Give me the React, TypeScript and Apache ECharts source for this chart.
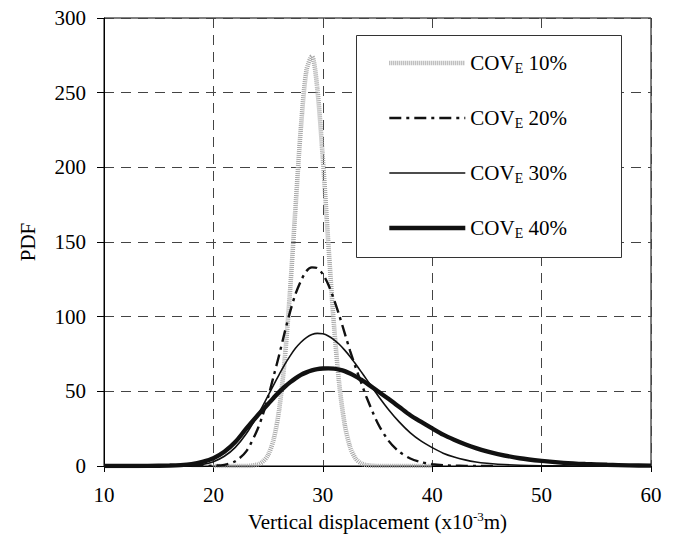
import React, { useEffect, useRef } from "react";
import * as echarts from "echarts";

// x grid (vertical displacement, x10^-3 m)
const X = [10, 12, 14, 16, 17, 18, 19, 20, 21, 22, 23, 24, 24.5, 25, 25.5, 26, 26.5, 27, 27.5, 28, 28.5, 29, 29.5, 30, 30.5, 31, 31.5, 32, 32.5, 33, 33.5, 34, 35, 36, 37, 38, 39, 40, 41, 42, 43, 44, 45, 46, 48, 50, 52, 54, 56, 58, 60];

// PDF values (null = curve not drawn there)
const COV10 = [null, null, null, null, null, null, null, 0, 0, 0, 0, 0.9, 2.8, 7.4, 17.6, 37.2, 69.9, 116.5, 172.6, 226.8, 264.7, 274.3, 252.5, 206.2, 149.6, 96.4, 55.1, 28.0, 12.6, 5.0, 1.8, 0.6, 0, 0, 0, 0, 0, 0, null, null, null, null, null, null, null, null, null, null, null, null, null];
const COV20 = [null, null, null, null, null, 0, 0, 0.2, 0.8, 3.2, 9.8, 24, 34, 46, 60, 74, 89, 103, 115, 124, 130.5, 133, 132.5, 128.5, 121.5, 112, 101, 89, 77, 66, 56, 46, 29, 17, 9.5, 5, 2.5, 1.2, 0.5, 0.2, 0.1, 0, 0, 0, null, null, null, null, null, null, null];
const COV30 = [0, 0, 0, 0.02, 0.1, 0.36, 1.1, 2.9, 6.5, 12.5, 21.6, 33.4, 40.1, 47.1, 54.2, 61.1, 67.7, 73.6, 78.8, 82.9, 86.0, 88.0, 88.8, 88.5, 87.1, 84.7, 81.5, 77.6, 73.2, 68.3, 63.2, 58.0, 47.6, 37.9, 29.4, 22.2, 16.6, 12.3, 8.6, 6.0, 4.1, 2.7, 1.8, 1.2, 0.5, 0.2, 0.1, 0, 0, 0, 0];
const COV40 = [0, 0.02, 0.08, 0.3, 0.6, 1.3, 2.8, 5.2, 9.5, 16, 25, 33.5, 37.5, 41.5, 45.6, 49.5, 52.9, 56, 58.7, 61, 62.7, 64, 64.9, 65.3, 65.4, 65.2, 64.5, 63.5, 61.9, 60, 57.8, 55.5, 50.2, 45, 39.5, 34, 29.5, 25.2, 21, 17.6, 14.6, 12, 9.8, 8, 5.2, 3.4, 2.1, 1.3, 0.8, 0.45, 0.25];

const SERIES_NAMES = ["COVE 10%", "COVE 20%", "COVE 30%", "COVE 40%"];
const SERIES_VALUES = [COV10, COV20, COV30, COV40];
const X_TICKS = [10, 20, 30, 40, 50, 60];
const Y_TICKS = [0, 50, 100, 150, 200, 250, 300];

const FONT = "Liberation Serif";

const STYLES = [
  { color: "#a6a6a6", width: 4.6, type: [1, 1] as any },
  { color: "#111", width: 2.4, type: [12, 5, 3, 5] as any },
  { color: "#111", width: 1.6, type: "solid" as any },
  { color: "#111", width: 4.4, type: "solid" as any },
];

export default function App() {
  const ref = useRef<HTMLDivElement>(null);
  useEffect(() => {
    if (!ref.current) return;
    const chart = echarts.init(ref.current, undefined, { renderer: "svg" });
    const series = SERIES_NAMES.map((name, i) => ({
      name,
      type: "line",
      data: X.map((x, j) => [x, SERIES_VALUES[i][j]]),
      showSymbol: false,
      symbol: "none",
      smooth: 0.3,
      connectNulls: false,
      lineStyle: { color: STYLES[i].color, width: STYLES[i].width, type: STYLES[i].type },
      itemStyle: { color: STYLES[i].color },
      z: 2 + i * 0.1,
    }));
    chart.setOption({
      animation: false,
      backgroundColor: "#fff",
      grid: {
        left: 104,
        right: 27,
        top: 18,
        bottom: 73,
        show: true,
        borderColor: "#000",
        borderWidth: 1,
        backgroundColor: "transparent",
      },
      xAxis: {
        type: "value",
        min: X_TICKS[0],
        max: X_TICKS[X_TICKS.length - 1],
        interval: 10,
        name: "Vertical displacement (x10{sup|-3}m)",
        nameLocation: "middle",
        nameGap: 41,
        nameTextStyle: {
          fontFamily: FONT,
          fontSize: 21,
          color: "#000",
          lineHeight: 24,
          rich: { sup: { fontFamily: FONT, fontSize: 13, lineHeight: 13, verticalAlign: "top", color: "#000" } },
        },
        axisLine: { show: true, lineStyle: { color: "#000", width: 1 } },
        axisTick: { show: true, inside: false, length: 6, lineStyle: { color: "#000" } },
        axisLabel: { fontFamily: FONT, fontSize: 21, color: "#000", margin: 18 },
        splitLine: { show: true, lineStyle: { color: "#444", width: 1, type: [10, 7] } },
      },
      yAxis: {
        type: "value",
        min: Y_TICKS[0],
        max: Y_TICKS[Y_TICKS.length - 1],
        interval: 50,
        name: "PDF",
        nameLocation: "middle",
        nameGap: 66,
        nameTextStyle: { fontFamily: FONT, fontSize: 21, color: "#000" },
        axisLine: { show: true, lineStyle: { color: "#000", width: 1 } },
        axisTick: { show: true, inside: false, length: 7, lineStyle: { color: "#000" } },
        axisLabel: { fontFamily: FONT, fontSize: 21, color: "#000", margin: 18 },
        splitLine: { show: true, lineStyle: { color: "#444", width: 1, type: [10, 7] } },
      },
      graphic: [
        {
          type: "rect",
          left: 356,
          top: 35,
          shape: { width: 265, height: 222 },
          style: { fill: "#fff", stroke: "#333", lineWidth: 1 },
          z: 3,
        },
      ],
      legend: {
        show: true,
        orient: "vertical",
        left: 387,
        top: 51,
        padding: 0,
        itemWidth: 76,
        itemHeight: 14,
        itemGap: 31,
        z: 5,
        data: SERIES_NAMES.map((name, i) => ({
          name,
          lineStyle: { width: STYLES[i].width, color: STYLES[i].color, type: STYLES[i].type },
          itemStyle: { opacity: 0 },
        })),
        itemStyle: { opacity: 0 },
        formatter: (name: string) => "COV{sub|E}" + name.slice(4),
        textStyle: {
          fontFamily: FONT,
          fontSize: 21,
          color: "#000",
          lineHeight: 24,
          rich: { sub: { fontFamily: FONT, fontSize: 14, lineHeight: 14, verticalAlign: "bottom", color: "#000" } },
        },
      },
      series,
    });
    return () => chart.dispose();
  }, []);
  return <div ref={ref} style={{ width: 678, height: 539, position: "absolute", left: 0, top: 0 }} />;
}
